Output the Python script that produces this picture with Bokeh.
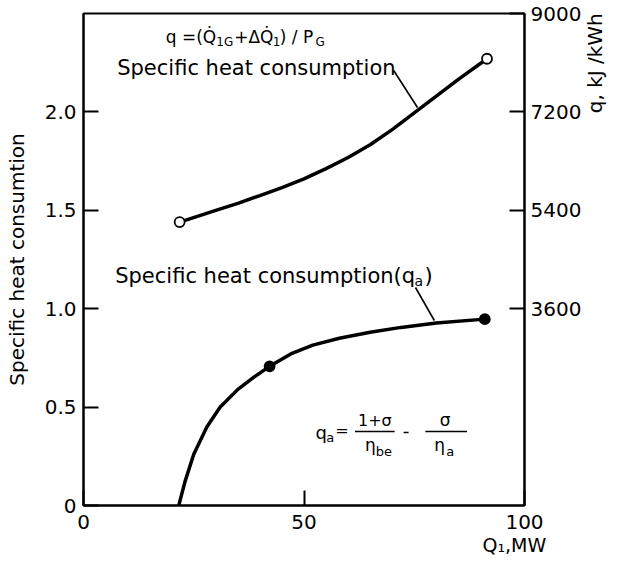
import math
from bokeh.plotting import figure
from bokeh.models import Label, LinearAxis, Range1d, FixedTicker, Title
from bokeh.embed import file_html
from bokeh.resources import INLINE

# ---------------- data ----------------
q_x = [21.8, 26, 30, 35, 40, 45, 50, 55, 60, 65, 70, 75, 80, 85, 91.5]
q_y = [1.44, 1.47, 1.50, 1.535, 1.575, 1.615, 1.66, 1.712, 1.768, 1.833, 1.91,
       1.995, 2.08, 2.165, 2.27]
q_marker_x = [21.8, 91.5]
q_marker_y = [1.44, 2.27]

qa_x = [21.6, 23, 25, 28, 31, 35, 38.5, 42.2, 47, 52, 58, 65, 72, 80, 91]
qa_y = [0.0, 0.12, 0.26, 0.40, 0.50, 0.59, 0.65, 0.707, 0.77, 0.815, 0.85,
        0.88, 0.905, 0.927, 0.947]
qa_marker_x = [42.2, 91]
qa_marker_y = [0.707, 0.947]

x_ticks = [0, 50, 100]
x_tick_labels = ["0", "50", "100"]
left_ticks = [0, 0.5, 1.0, 1.5, 2.0]
left_tick_labels = ["0", "0.5", "1.0", "1.5", "2.0"]
right_ticks = [3600, 5400, 7200, 9000]
right_tick_labels = ["3600", "5400", "7200", "9000"]

FONT = "DejaVu Sans"
W, H = 621, 562

# layout helpers: picture pixel position -> data coordinates
FR_L, FR_R, FR_T, FR_B = 83, 528, 13, 505
def dx(px):
    return (px - FR_L) / (FR_R - FR_L) * 100.0
def dy(py):
    return (FR_B - py) / (FR_B - FR_T) * 2.5

p = figure(width=W, height=H, x_range=Range1d(0, 100), y_range=Range1d(0, 2.5),
           output_backend="svg", toolbar_location=None,
           min_border_left=FR_L, min_border_right=W - FR_R,
           min_border_top=FR_T, min_border_bottom=H - FR_B)
p.extra_y_ranges = {"kj": Range1d(0, 9000)}
p.grid.visible = False
p.outline_line_color = "black"
p.outline_line_width = 2
p.outline_line_alpha = 1.0
p.background_fill_color = "white"
p.border_fill_color = "white"

right = LinearAxis(y_range_name="kj")
p.add_layout(right, "right")

axes = [p.xaxis[0], p.yaxis[0], right]
for ax in axes:
    ax.major_tick_in = 15
    ax.major_tick_out = 0
    ax.minor_tick_in = 0
    ax.minor_tick_out = 0
    ax.axis_line_width = 2
    ax.axis_line_color = "black"
    ax.major_tick_line_width = 2
    ax.major_tick_line_color = "black"
    ax.major_label_text_font = FONT
    ax.major_label_text_font_size = "20px"
    ax.major_label_text_color = "black"

p.xaxis[0].ticker = FixedTicker(ticks=x_ticks)
p.xaxis[0].major_label_overrides = dict(zip(x_ticks, x_tick_labels))
p.xaxis[0].major_label_standoff = 9

p.yaxis[0].ticker = FixedTicker(ticks=left_ticks)
p.yaxis[0].major_label_overrides = dict(zip(left_ticks, left_tick_labels))
p.yaxis[0].major_label_standoff = 7
p.yaxis[0].axis_label = "Specific heat consumtion"
p.yaxis[0].axis_label_text_font = FONT
p.yaxis[0].axis_label_text_font_size = "20px"
p.yaxis[0].axis_label_text_font_style = "normal"
p.yaxis[0].axis_label_text_color = "black"
p.yaxis[0].axis_label_standoff = 13

right.ticker = FixedTicker(ticks=right_ticks)
right.major_label_overrides = dict(zip(right_ticks, right_tick_labels))
right.major_label_standoff = 6

# right-hand title "q, kJ /kWh": reads upward beside the top of the right axis.
# It is the label of a bare second right axis; the label starts at the middle of
# the frame, so non-breaking spaces lift the visible words up to the top.
NBSP = "\u00a0"
title_axis = LinearAxis(y_range_name="kj", ticker=FixedTicker(ticks=[]))
title_axis.axis_line_color = None
title_axis.major_tick_line_color = None
title_axis.minor_tick_line_color = None
title_axis.major_label_text_font_size = "0px"
title_axis.axis_label = NBSP * 23 + "q, kJ /kWh"
title_axis.axis_label_orientation = math.pi / 2
title_axis.axis_label_standoff = 10
title_axis.axis_label_text_font = FONT
title_axis.axis_label_text_font_size = "20px"
title_axis.axis_label_text_font_style = "normal"
title_axis.axis_label_text_color = "black"
title_axis.axis_label_text_baseline = "middle"
p.add_layout(title_axis, "right")

# x-axis title "Q1,MW" below the right end
p.add_layout(Title(text="Q\u2081,MW", align="left", offset=482 - FR_L, standoff=0,
                   text_font=FONT, text_font_size="19px",
                   text_font_style="normal", text_color="black"), "below")

# curves
p.line(q_x, q_y, line_color="black", line_width=3.5)
p.line(qa_x, qa_y, line_color="black", line_width=3.5)
p.scatter(q_marker_x, q_marker_y, marker="circle", size=10, fill_color="white",
          line_color="black", line_width=1.8)
p.scatter(qa_marker_x, qa_marker_y, marker="circle", size=10, fill_color="black",
          line_color="black", line_width=1.8)

# leader lines
p.segment(x0=[dx(396), dx(418)], y0=[dy(70), dy(287)],
          x1=[dx(420), dx(437)], y1=[dy(107), dy(320)],
          line_color="black", line_width=1.6)

# fraction bars and minus of the q_a formula
p.segment(x0=[dx(357), dx(428), dx(406)], y0=[dy(431), dy(431), dy(432)],
          x1=[dx(397), dx(470), dx(411)], y1=[dy(431), dy(431), dy(432)],
          line_color="black", line_width=1.5)

def lab(px, py, text, size, align="left", angle=0.0):
    p.add_layout(Label(x=dx(px), y=dy(py), text=text, text_font=FONT,
                       text_font_size=f"{size}px", text_color="black",
                       text_align=align, text_baseline="middle", angle=angle))

# top formula q = (Q1G + dQ1) / PG
lab(166, 36, "q =(Q\u0307", 17)
lab(217, 41, "1G", 12)
lab(235, 36, "+\u0394Q\u0307", 17)
lab(274, 41, "1", 12)
lab(281, 36, ") / P", 17)
lab(317, 41, "G", 12)

lab(117, 67, "Specific heat consumption", 21)

lab(115, 275, "Specific heat consumption(q", 21)
lab(417, 280, "a", 14)
lab(427, 275, ")", 21)

# q_a formula
lab(317, 432, "q", 18)
lab(328, 437, "a", 13)
lab(337, 430, "=", 16)
lab(377, 420, "1+\u03c3", 16, align="center")
lab(367, 444, "\u03b7", 17)
lab(378, 451, "be", 13)
lab(448, 419, "\u03c3", 17, align="center")
lab(437, 444, "\u03b7", 17)
lab(449, 451, "a", 13)

open("out.html", "w").write(file_html(p, INLINE))
